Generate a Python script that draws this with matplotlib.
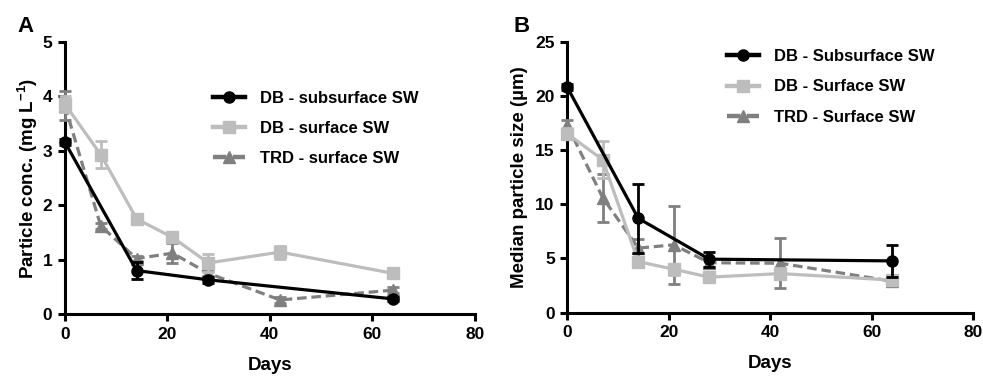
import matplotlib
matplotlib.use('Agg')
import matplotlib.pyplot as plt
import numpy as np

plt.rcParams['font.family'] = ['Liberation Sans', 'DejaVu Sans']
plt.rcParams['font.weight'] = 'bold'
plt.rcParams['mathtext.fontset'] = 'custom'
plt.rcParams['mathtext.bf'] = 'Liberation Sans:bold'
plt.rcParams['mathtext.rm'] = 'Liberation Sans:bold'

# ---- data ----
days_sub = [0, 14, 28, 64]
days_surf = [0, 7, 14, 21, 28, 42, 64]

# panel A: particle concentration (mg/L)
conc_sub = [3.16, 0.80, 0.63, 0.28]
conc_sub_err = [0.05, 0.15, 0.05, 0.03]
conc_surf = [3.86, 2.93, 1.75, 1.41, 0.94, 1.14, 0.75]
conc_surf_err = [0.15, 0.25, 0.05, 0.08, 0.17, 0.12, 0.05]
conc_trd = [3.83, 1.62, 1.02, 1.12, 0.75, 0.26, 0.44]
conc_trd_err = [0.26, 0.05, 0.05, 0.18, 0.05, 0.05, 0.05]

# panel B: median particle size (um)
size_sub = [20.8, 8.7, 4.93, 4.77]
size_sub_err = [0.3, 3.2, 0.7, 1.45]
size_surf = [16.5, 14.1, 4.7, 4.0, 3.27, 3.6, 3.0]
size_surf_err = [0.5, 1.7, 0.4, 0.5, 0.3, 0.5, 0.3]
size_trd = [17.3, 10.6, 5.95, 6.25, 4.6, 4.55, 2.9]
size_trd_err = [0.5, 2.2, 0.85, 3.6, 0.4, 2.3, 0.4]

labels_A = ['DB - subsurface SW', 'DB - surface SW', 'TRD - surface SW']
labels_B = ['DB - Subsurface SW', 'DB - Surface SW', 'TRD - Surface SW']

BLACK = '#000000'
LIGHT = '#bdbdbd'
DARK = '#808080'


def draw_series(ax, x, y, err, color, marker, ls, label, z):
    ms = 8 if marker == 'o' else 8.5
    dashes = (3, 1.5) if ls == '--' else (None, None)
    ax.errorbar(x, y, yerr=err, color=color, fmt='none', elinewidth=2,
                capsize=4, capthick=2, clip_on=False, zorder=z)
    ax.plot(x, y, color=color, marker=marker, ms=ms, ls=ls, lw=2.3,
            dashes=dashes, label=label, clip_on=False, zorder=z)


def style_axes(ax, ymax, ystep):
    ax.set_xlim(0, 80)
    ax.set_ylim(0, ymax)
    ax.set_xticks(np.arange(0, 81, 20))
    ax.set_yticks(np.arange(0, ymax + 0.01, ystep))
    for s in ['top', 'right']:
        ax.spines[s].set_visible(False)
    for s in ['left', 'bottom']:
        ax.spines[s].set_linewidth(2.2)
    ax.tick_params(width=2.2, length=5, labelsize=12.5, pad=4)
    for t in ax.get_xticklabels() + ax.get_yticklabels():
        t.set_fontweight('bold')
    ax.set_xlabel('Days', fontsize=13.5, fontweight='bold', labelpad=11)


fig = plt.figure(figsize=(9.83, 3.78), dpi=100)
axA = fig.add_axes([0.066, 0.169, 0.417, 0.72])
axB = fig.add_axes([0.577, 0.173, 0.413, 0.717])

draw_series(axA, days_surf, conc_trd, conc_trd_err, DARK, '^', '--', labels_A[2], 3)
draw_series(axA, days_surf, conc_surf, conc_surf_err, LIGHT, 's', '-', labels_A[1], 4)
draw_series(axA, days_sub, conc_sub, conc_sub_err, BLACK, 'o', '-', labels_A[0], 5)
style_axes(axA, 5, 1)
axA.set_ylabel(r'Particle conc. (mg L$^{\mathbf{-1}}$)', fontsize=13.5, fontweight='bold', labelpad=2)

draw_series(axB, days_surf, size_trd, size_trd_err, DARK, '^', '--', labels_B[2], 3)
draw_series(axB, days_surf, size_surf, size_surf_err, LIGHT, 's', '-', labels_B[1], 4)
draw_series(axB, days_sub, size_sub, size_sub_err, BLACK, 'o', '-', labels_B[0], 5)
style_axes(axB, 25, 5)
axB.set_ylabel('Median particle size (µm)', fontsize=13.5, fontweight='bold', labelpad=5)

for ax, loc, sp in [(axA, (0.2167, 0.661), 0.9), (axB, (0.7396, 0.770), 0.95)]:
    h, l = ax.get_legend_handles_labels()
    h, l = h[::-1], l[::-1]
    leg = ax.legend(h, l, loc='center left', bbox_to_anchor=loc,
                    bbox_transform=fig.transFigure, frameon=False,
                    fontsize=12, handlelength=1.9, handletextpad=0.9,
                    labelspacing=sp, borderaxespad=0, borderpad=0)
    for t in leg.get_texts():
        t.set_fontweight('bold')
    for line in leg.get_lines():
        line.set_linewidth(3.2)

fig.text(0.018, 0.915, 'A', fontsize=16, fontweight='bold')
fig.text(0.522, 0.915, 'B', fontsize=16, fontweight='bold')

plt.savefig('out.png', dpi=100)
plt.close()
